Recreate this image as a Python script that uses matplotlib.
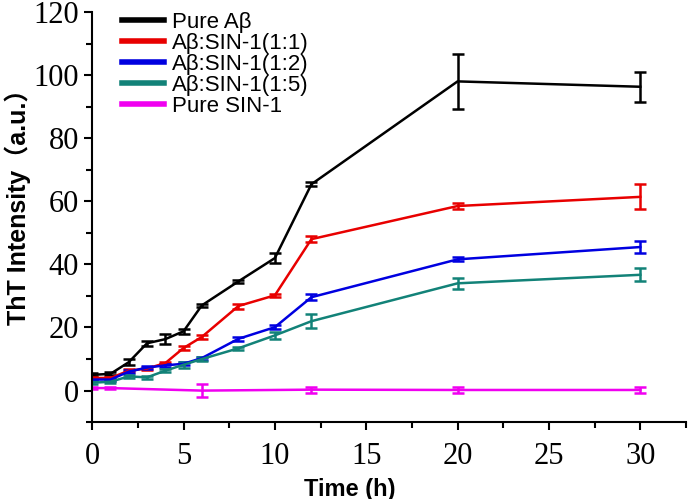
import numpy as np
import matplotlib
matplotlib.use("Agg")
import matplotlib.pyplot as plt
from matplotlib.ticker import MultipleLocator

# time points (h)
t_full = [0, 1, 2, 3, 4, 5, 6, 8, 10, 12, 20, 30]
t_sin = [0, 1, 6, 12, 20, 30]

pure_ab = [5.0, 5.3, 9.0, 15.0, 16.3, 18.8, 27.0, 34.6, 42.0, 65.4, 98.0, 96.3]
pure_ab_err = [0.5, 0.5, 1.0, 0.8, 1.5, 0.8, 0.6, 0.5, 1.5, 0.7, 8.7, 4.7]

ab_sin_11 = [4.0, 4.0, 6.3, 7.0, 8.7, 13.5, 17.0, 26.8, 30.2, 48.0, 58.5, 61.4]
ab_sin_11_err = [0.4, 0.4, 0.4, 0.4, 0.4, 0.5, 0.5, 0.8, 0.5, 1.0, 1.0, 4.0]

ab_sin_12 = [3.5, 3.5, 6.0, 7.3, 8.0, 8.5, 10.3, 16.4, 20.1, 29.6, 41.6, 45.5]
ab_sin_12_err = [0.4, 0.4, 0.4, 0.4, 0.4, 0.5, 0.5, 0.7, 0.7, 1.0, 0.6, 2.0]

ab_sin_15 = [2.5, 2.8, 4.5, 4.2, 6.3, 8.2, 10.0, 13.4, 17.5, 22.0, 34.0, 36.7]
ab_sin_15_err = [0.4, 0.4, 0.4, 0.4, 0.4, 1.0, 0.5, 0.5, 1.0, 2.2, 1.8, 2.0]

pure_sin = [0.8, 0.8, 0.0, 0.3, 0.2, 0.2]
pure_sin_err = [0.3, 0.3, 2.0, 1.0, 1.0, 1.0]

fig = plt.figure(figsize=(6.88, 4.99), dpi=100)
ax = fig.add_axes([0.134, 0.154, 0.863, 0.822])

series = [
 (t_full, pure_ab, pure_ab_err, "black", "Pure Aβ"),
 (t_full, ab_sin_11, ab_sin_11_err, "#e80000", "Aβ:SIN-1(1:1)"),
 (t_full, ab_sin_12, ab_sin_12_err, "#0000e0", "Aβ:SIN-1(1:2)"),
 (t_full, ab_sin_15, ab_sin_15_err, "#128278", "Aβ:SIN-1(1:5)"),
 (t_sin, pure_sin, pure_sin_err, "#f000f0", "Pure SIN-1"),
]
handles = []
labels = []
for x, y, e, c, lab in series:
 cont = ax.errorbar(x, y, yerr=e, color=c, lw=1.8, elinewidth=1.8, capsize=4,
                    capthick=1.8)
 handles.append(cont[0])
 labels.append(lab)

ax.set_xlim(0, 32.5)
ax.set_ylim(-10, 120)
ax.xaxis.set_major_locator(MultipleLocator(5))
ax.xaxis.set_minor_locator(MultipleLocator(2.5))
ax.yaxis.set_major_locator(MultipleLocator(20))
ax.yaxis.set_minor_locator(MultipleLocator(10))
ax.spines["top"].set_visible(False)
ax.spines["right"].set_visible(False)
for s in ("left", "bottom"):
 ax.spines[s].set_linewidth(1.5)
ax.tick_params(which="major", length=6, width=1.5, direction="out")
ax.tick_params(which="minor", length=4, width=1.5, direction="out")
ax.tick_params(axis="x", pad=8)
for lbl in ax.get_xticklabels() + ax.get_yticklabels():
 lbl.set_family("Liberation Serif")
 lbl.set_fontsize(22)

ax.set_xlabel("Time (h)", family=["Liberation Sans", "Noto Sans CJK SC"],
              fontweight="bold", fontsize=17)
ax.xaxis.set_label_coords(0.434, -0.135)
ax.set_ylabel("ThT Intensity（a.u.）", family=["Liberation Sans", "Noto Sans CJK SC"],
              fontweight="bold", fontsize=18)
ax.yaxis.set_label_coords(-0.103, 0.539)

leg = ax.legend(handles, labels, loc="upper left", bbox_to_anchor=(0.05, 1.0),
                frameon=False, borderaxespad=0, borderpad=0,
                prop={"family": "Liberation Sans", "size": 16},
                handlelength=1.9, labelspacing=0.0, handletextpad=0.35)
for h in leg.legend_handles:
 h.set_linewidth(4)

fig.savefig("out.png", dpi=100)
